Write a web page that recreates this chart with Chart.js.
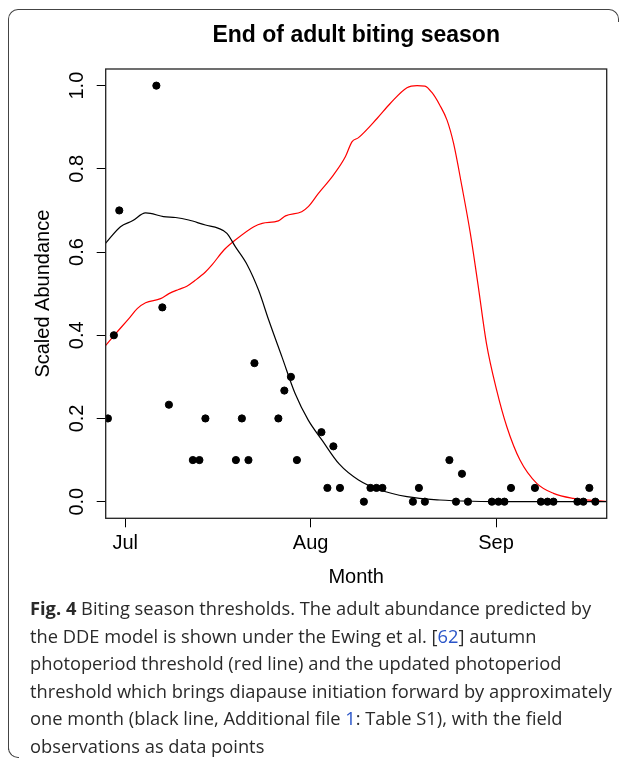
<!DOCTYPE html>
<html>
<head>
<meta charset="utf-8">
<script src="https://cdn.jsdelivr.net/npm/chart.js@4/dist/chart.umd.min.js"></script>
<style>
  body { margin: 0; background: #fff; width: 627px; height: 764px; overflow: hidden; position: relative; }
  #chart { position: absolute; left: 0; top: 0; }
  .frame { position: absolute; left: 8px; top: 9px; width: 600px; height: 740px;
    border-top: 1.5px solid #444; border-left: 1.5px solid #444; border-top-left-radius: 10px; }
  .corner-tr { position: absolute; left: 606px; top: 9px; width: 12px; height: 12px;
    border-top: 1.5px solid #444; border-right: 1.5px solid #444; border-top-right-radius: 10px; }
  .corner-bl { position: absolute; left: 8px; top: 745px; width: 10px; height: 12px;
    border-left: 1.5px solid #444; border-bottom: 1.5px solid #444; border-bottom-left-radius: 10px; }
  .caption { position: absolute; left: 30px; top: 594px; width: 595px;
    font-family: "Open Sans", sans-serif; font-size: 18.3px; line-height: 27.5px; color: #2a2a2a; white-space: nowrap; }
  .caption a { color: #2a55c8; text-decoration: none; }
</style>
</head>
<body>
<div class="frame"></div>
<div class="corner-tr"></div>
<div class="corner-bl"></div>
<canvas id="chart" width="627" height="600"></canvas>
<div class="caption">
<b>Fig. 4</b> Biting season thresholds. The adult abundance predicted by<br>
the DDE model is shown under the Ewing et al. [<a>62</a>] autumn<br>
photoperiod threshold (red line) and the updated photoperiod<br>
threshold which brings diapause initiation forward by approximately<br>
one month (black line, Additional file <a>1</a>: Table S1), with the field<br>
observations as data points
</div>
<script>
// days counted from 1 July
var monthLabels = ['Jul', 'Aug', 'Sep'];
var monthDays = [0, 31, 62];
var yTicks = [0, 0.2, 0.4, 0.6, 0.8, 1.0];

// field observations
var obsDay = [-2.9, -1.9, -1.0, 5.2, 6.2, 7.3, 11.3, 12.4, 13.4, 18.5, 19.5, 20.6, 21.6, 25.6, 26.6,
  27.7, 28.7, 32.8, 33.8, 34.8, 35.9, 39.9, 41.0, 42.0, 43.0, 48.1, 49.1, 50.1, 54.2, 55.3,
  56.3, 57.3, 61.3, 62.4, 63.4, 64.5, 68.5, 69.5, 70.6, 71.6, 75.6, 76.6, 77.6, 78.6];
var obsVal = [0.2, 0.4, 0.7, 1.0, 0.467, 0.233, 0.1, 0.1, 0.2, 0.1, 0.2, 0.1, 0.333, 0.2, 0.267,
  0.3, 0.1, 0.167, 0.033, 0.133, 0.033, 0, 0.033, 0.033, 0.033, 0, 0.033, 0, 0.1, 0,
  0.067, 0, 0, 0, 0, 0.033, 0.033, 0, 0, 0, 0, 0, 0.033, 0];

// updated photoperiod threshold (black)
var blackDay = [-3.3, -0.8, 1.2, 3.4, 4.2, 6.4, 8.4, 10.6, 13.4, 15.6, 17.0, 18.4, 20.4, 22.3, 24.0,
  26.2, 28.4, 30.6, 32.9, 35.8, 39.0, 42.6, 47.1, 52.6, 58.0, 65.0, 80.6];
var blackVal = [0.621, 0.661, 0.675, 0.694, 0.693, 0.685, 0.683, 0.677, 0.665, 0.657, 0.645, 0.613, 0.569, 0.508, 0.436,
  0.348, 0.26, 0.196, 0.148, 0.09, 0.052, 0.028, 0.012, 0.004, 0.001, 0, 0];

// Ewing et al. threshold (red)
var redDay = [-3.3, -1.6, 0.6, 2.0, 3.4, 5.9, 7.3, 8.9, 10.3, 11.7, 13.4, 14.5, 16.5, 18.4, 21.5,
  22.9, 25.6, 26.8, 29.5, 30.6, 32.3, 34.8, 36.8, 37.9, 39.0, 42.1, 44.3, 47.1, 48.8, 50.1,
  51.3, 52.6, 53.8, 54.9, 56.3, 57.7, 59.0, 60.4, 62.1, 63.8, 66.0, 68.8, 71.6, 74.9, 78.2, 80.6];
var redVal = [0.375, 0.404, 0.44, 0.464, 0.478, 0.488, 0.5, 0.51, 0.518, 0.532, 0.552, 0.569, 0.605, 0.629, 0.661,
  0.669, 0.675, 0.687, 0.697, 0.709, 0.741, 0.785, 0.829, 0.865, 0.875, 0.921, 0.957, 0.995, 1.0, 0.999,
  0.983, 0.953, 0.917, 0.861, 0.757, 0.645, 0.52, 0.38, 0.268, 0.18, 0.1, 0.044, 0.02, 0.008, 0.003, 0.001];

function pts(xs, ys) {
  var out = [];
  for (var i = 0; i < xs.length; i++) out.push({x: xs[i], y: ys[i]});
  return out;
}

var font = 'Liberation Sans, Arial, sans-serif';

// R style box round the plot
var boxPlugin = {
  id: 'box',
  afterDraw: function(chart) {
    var a = chart.chartArea, c = chart.ctx;
    c.save();
    c.strokeStyle = '#222';
    c.lineWidth = 1.3;
    c.strokeRect(a.left, a.top, a.right - a.left, a.bottom - a.top);
    c.restore();
  }
};

var ctx = document.getElementById('chart').getContext('2d');
var myChart = new Chart(ctx, {
  type: 'scatter',
  data: {
    datasets: [
      {
        label: 'Field observations',
        data: pts(obsDay, obsVal),
        backgroundColor: '#000',
        borderColor: '#000',
        pointRadius: 3.6,
        showLine: false
      },
      {
        label: 'Updated threshold',
        data: pts(blackDay, blackVal),
        borderColor: '#000',
        borderWidth: 1.2,
        pointRadius: 0,
        showLine: true,
        cubicInterpolationMode: 'monotone'
      },
      {
        label: 'Ewing et al. threshold',
        data: pts(redDay, redVal),
        borderColor: '#ff0000',
        borderWidth: 1.2,
        pointRadius: 0,
        showLine: true,
        cubicInterpolationMode: 'monotone'
      }
    ]
  },
  options: {
    responsive: false,
    animation: false,
    layout: { padding: { left: 0, right: 20.3, top: 0, bottom: 0 } },
    plugins: {
      legend: { display: false },
      tooltip: { enabled: false },
      title: {
        display: true,
        fullSize: false,
        text: 'End of adult biting season',
        color: '#000',
        font: { family: font, size: 23, weight: 'bold' },
        padding: { top: 22, bottom: 19.4 }
      }
    },
    scales: {
      x: {
        type: 'linear',
        min: -3.27,
        max: 80.5,
        border: { display: false },
        grid: { drawOnChartArea: false, drawTicks: true, tickLength: 9, color: '#000' },
        afterBuildTicks: function(scale) {
          scale.ticks = monthDays.map(function(v) { return {value: v}; });
        },
        afterFit: function(scale) { scale.height = 81.7; },
        ticks: {
          color: '#000',
          padding: 4,
          maxRotation: 0,
          font: { family: font, size: 20 },
          callback: function(v, i) { return monthLabels[i]; }
        },
        title: {
          display: true,
          text: 'Month',
          color: '#000',
          font: { family: font, size: 20 },
          padding: { top: 0, bottom: 11 }
        }
      },
      y: {
        min: -0.04,
        max: 1.04,
        border: { display: false },
        grid: { drawOnChartArea: false, drawTicks: true, tickLength: 9, color: '#000' },
        afterBuildTicks: function(scale) {
          scale.ticks = yTicks.map(function(v) { return {value: v}; });
        },
        afterFit: function(scale) { scale.width = 105.7; },
        ticks: {
          color: '#000',
          padding: 5,
          minRotation: 90,
          maxRotation: 90,
          crossAlign: 'center',
          font: { family: font, size: 20 },
          callback: function(v) { return v.toFixed(1); }
        },
        title: {
          display: true,
          text: 'Scaled Abundance',
          color: '#000',
          font: { family: font, size: 20 },
          padding: { top: 31.5, bottom: 0 }
        }
      }
    }
  },
  plugins: [boxPlugin]
});
</script>
</body>
</html>
